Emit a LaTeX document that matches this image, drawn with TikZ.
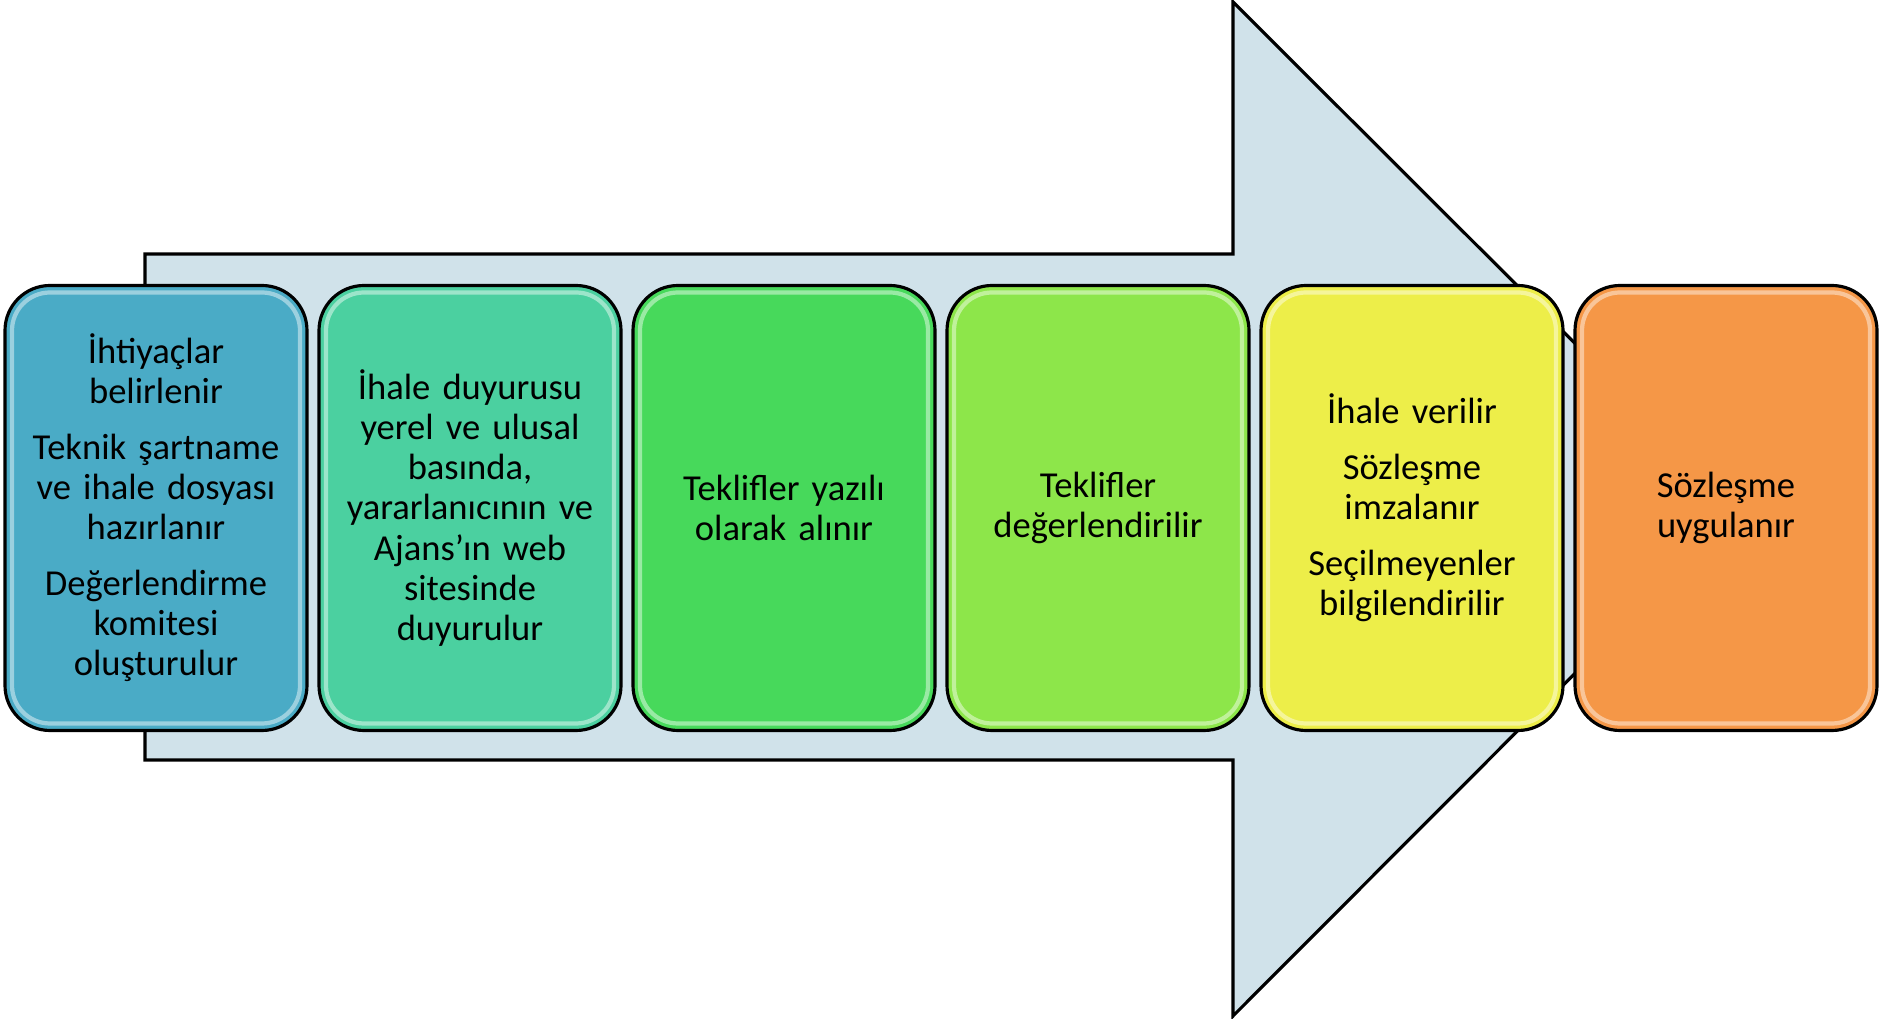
\documentclass[tikz,border=0pt]{standalone}
\usepackage{fontspec}
\setmainfont{Carlito}
\usepackage{tikz}
\usetikzlibrary{positioning}
\usetikzlibrary{calc}

\definecolor{arrowfill}{HTML}{D0E2EA}
\definecolor{stepa}{HTML}{4AABC6}
\definecolor{stepb}{HTML}{4BD0A0}
\definecolor{stepc}{HTML}{47D95B}
\definecolor{stepd}{HTML}{8DE64A}
\definecolor{stepe}{HTML}{EDEE49}
\definecolor{stepf}{HTML}{F59747}

\tikzset{
stepbox/.style={draw=black, line width=0.9pt, rounded corners=0.45cm,
  minimum width=3.02cm, minimum height=4.45cm, text width=2.9cm, outer sep=0pt,
  align=center, inner sep=0pt, font=\fontsize{10.4}{11.4}\selectfont},
gloss/.style={draw=white, opacity=0.45, line width=1.2pt, rounded corners=0.38cm}}

\begin{document}
\begin{tikzpicture}
    \useasboundingbox (0,0) rectangle (18.79,10.19);

    % big arrow behind the steps
    \draw[fill=arrowfill, line width=0.9pt] (1.45,2.59) -- (1.45,7.65) -- (12.33,7.65) -- (12.33,10.17)
        -- (17.40,5.11) -- (12.33,0.03) -- (12.33,2.59) -- cycle;

    \node[stepbox, fill=stepa] (s1) at (1.56,5.11) {İhtiyaçlar\\belirlenir\\[4.5pt]Teknik şartname\\ve ihale dosyası\\hazırlanır\\[4.5pt]Değerlendirme\\komitesi\\oluşturulur};
    \node[stepbox, fill=stepb, right=0.12cm of s1] (s2) {İhale duyurusu\\yerel ve ulusal\\basında,\\yararlanıcının ve\\Ajans’ın web\\sitesinde\\duyurulur};
    \node[stepbox, fill=stepc, right=0.12cm of s2] (s3) {Teklifler yazılı\\olarak alınır};
    \node[stepbox, fill=stepd, right=0.12cm of s3] (s4) {Teklifler\\değerlendirilir};
    \node[stepbox, fill=stepe, right=0.12cm of s4] (s5) {İhale verilir\\[4.5pt]Sözleşme\\imzalanır\\[4.5pt]Seçilmeyenler\\bilgilendirilir};
    \node[stepbox, fill=stepf, right=0.12cm of s5] (s6) {Sözleşme\\uygulanır};

    % glossy rim
    \foreach \n in {s1,s2,s3,s4,s5,s6}
        \draw[gloss] ($(\n.south west)+(0.07,0.07)$) rectangle ($(\n.north east)-(0.07,0.07)$);

\end{tikzpicture}
\end{document}
